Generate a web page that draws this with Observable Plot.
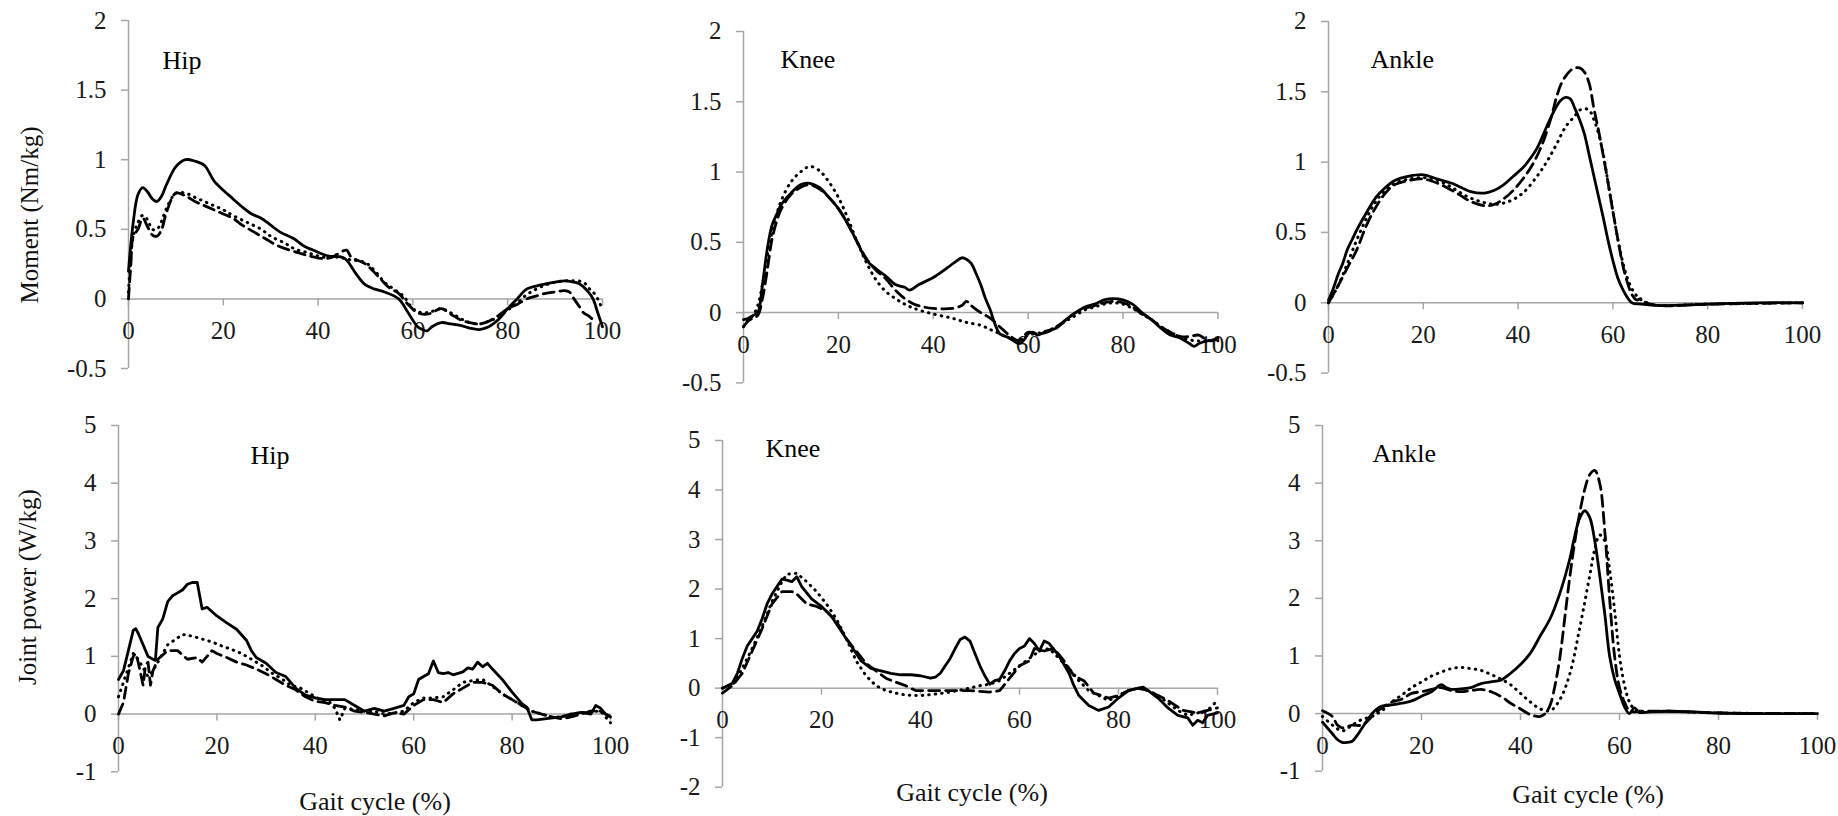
<!DOCTYPE html>
<html><head><meta charset="utf-8">
<script src="https://cdn.jsdelivr.net/npm/d3@7"></script>
<script src="https://cdn.jsdelivr.net/npm/@observablehq/plot@0.6"></script>
<style>
html,body{margin:0;padding:0;background:#fff;}
#root{position:relative;width:1838px;height:816px;overflow:hidden;background:#fff;font-family:"Liberation Serif","Times New Roman",serif;}
.ttl{position:absolute;color:#111;white-space:nowrap;line-height:1;transform:translate(-50%,-50%);}
.rot{transform:translate(-50%,-50%) rotate(-90deg);}
</style></head><body><div id="root"></div>
<script>
// ---------- data ----------
const xTicks = [0, 20, 40, 60, 80, 100];
const momentTicks = [-0.5, 0, 0.5, 1, 1.5, 2];
const powerTicks = [-1, 0, 1, 2, 3, 4, 5];
const kneePowerTicks = [-2, -1, 0, 1, 2, 3, 4, 5];
const jointLabels = ["Hip", "Knee", "Ankle"];
const seriesNames = ["solid", "dashed", "dotted"];

const hipMomentSolid = [[0,0.2],[1,0.55],[2,0.75],[3,0.8],[4,0.77],[5,0.72],[6,0.7],[7,0.74],[8,0.82],[10,0.95],[12,1.0],[14,0.99],[16,0.96],[18,0.85],[20,0.78],[22,0.72],[24,0.66],[26,0.61],[28,0.58],[30,0.53],[32,0.48],[35,0.43],[37,0.38],[39,0.35],[42,0.31],[45,0.3],[46,0.28],[48,0.18],[50,0.1],[52,0.07],[54,0.05],[57,0.0],[59,-0.1],[61,-0.2],[62,-0.22],[63,-0.23],[64,-0.2],[66,-0.17],[68,-0.18],[70,-0.19],[72,-0.21],[74,-0.22],[76,-0.2],[78,-0.15],[80,-0.07],[82,0.0],[84,0.07],[87,0.1],[90,0.12],[92,0.13],[94,0.12],[95,0.11],[97,0.05],[98,0.0],[99,-0.1],[100,-0.2]];
const hipMomentDashed = [[0,0.0],[0.5,0.25],[1,0.45],[2,0.5],[3,0.58],[4,0.52],[5,0.46],[6,0.45],[7,0.5],[8,0.62],[10,0.76],[12,0.74],[14,0.7],[16,0.67],[18,0.64],[20,0.61],[22,0.58],[24,0.53],[27,0.47],[29,0.43],[31,0.39],[34,0.35],[36,0.33],[38,0.31],[41,0.29],[43,0.3],[44,0.32],[46,0.35],[47,0.3],[50,0.25],[53,0.15],[55,0.08],[57,0.04],[59,-0.04],[61,-0.1],[63,-0.11],[64,-0.1],[66,-0.07],[68,-0.11],[70,-0.15],[72,-0.17],[74,-0.18],[76,-0.16],[78,-0.12],[80,-0.07],[82,-0.04],[84,0.0],[86,0.02],[88,0.04],[90,0.05],[92,0.06],[93,0.05],[94,0.0],[95,-0.05],[96,-0.1],[97,-0.12],[98,-0.15]];
const hipMomentDotted = [[0,0.05],[0.5,0.3],[1,0.45],[2,0.55],[3,0.6],[4,0.57],[5,0.5],[6,0.5],[7,0.56],[8,0.65],[10,0.76],[12,0.76],[14,0.73],[16,0.7],[18,0.67],[20,0.64],[22,0.6],[25,0.55],[28,0.5],[30,0.45],[33,0.4],[35,0.36],[38,0.33],[41,0.3],[44,0.3],[47,0.28],[50,0.26],[52,0.2],[54,0.12],[56,0.07],[58,0.02],[60,-0.07],[62,-0.1],[64,-0.09],[66,-0.07],[68,-0.1],[70,-0.14],[72,-0.17],[74,-0.18],[76,-0.16],[78,-0.13],[80,-0.08],[82,-0.03],[84,0.03],[86,0.07],[88,0.1],[90,0.12],[92,0.13],[94,0.13],[96,0.12],[97,0.08],[98,0.05],[99,0.0],[100,-0.08]];

const kneeMomentSolid = [[0,-0.05],[1,-0.04],[2,-0.02],[3,0.0],[4,0.2],[5,0.45],[6,0.62],[7,0.7],[8,0.77],[10,0.85],[12,0.91],[14,0.92],[16,0.89],[18,0.82],[20,0.74],[22,0.63],[24,0.5],[26,0.37],[28,0.31],[30,0.26],[32,0.2],[34,0.18],[35,0.16],[37,0.2],[40,0.25],[43,0.32],[45,0.37],[46,0.39],[47,0.38],[48,0.35],[49,0.28],[50,0.2],[51,0.1],[52,0.02],[53,-0.08],[54,-0.15],[56,-0.18],[58,-0.22],[59,-0.2],[60,-0.15],[61,-0.14],[62,-0.16],[64,-0.13],[66,-0.11],[68,-0.05],[70,0.0],[72,0.04],[74,0.06],[76,0.09],[78,0.1],[80,0.09],[82,0.06],[84,0.0],[86,-0.05],[88,-0.11],[90,-0.16],[92,-0.18],[94,-0.22],[95,-0.24],[96,-0.22],[98,-0.2],[100,-0.19]];
const kneeMomentDashed = [[0,-0.1],[1,-0.06],[2,-0.04],[3,-0.02],[4,0.1],[5,0.3],[6,0.52],[7,0.65],[8,0.74],[10,0.84],[12,0.89],[14,0.91],[16,0.88],[18,0.82],[20,0.74],[22,0.63],[24,0.5],[26,0.38],[28,0.3],[30,0.24],[32,0.16],[34,0.1],[36,0.06],[38,0.04],[40,0.03],[44,0.03],[46,0.05],[47,0.08],[48,0.05],[50,0.0],[52,-0.04],[54,-0.1],[56,-0.16],[58,-0.2],[60,-0.14],[62,-0.15],[64,-0.14],[66,-0.1],[68,-0.05],[70,0.0],[72,0.03],[74,0.05],[76,0.07],[78,0.08],[80,0.07],[82,0.04],[84,-0.01],[86,-0.05],[88,-0.1],[90,-0.14],[92,-0.17],[94,-0.17],[96,-0.16],[98,-0.2],[100,-0.18]];
const kneeMomentDotted = [[0,-0.1],[1,-0.05],[2,-0.02],[3,0.05],[4,0.2],[5,0.4],[6,0.57],[7,0.7],[8,0.8],[10,0.93],[12,1.0],[14,1.04],[16,1.01],[18,0.93],[20,0.82],[22,0.67],[24,0.5],[26,0.35],[28,0.23],[30,0.15],[32,0.1],[34,0.06],[36,0.03],[40,-0.01],[44,-0.04],[47,-0.07],[50,-0.09],[52,-0.12],[54,-0.15],[56,-0.18],[58,-0.2],[60,-0.16],[63,-0.14],[66,-0.1],[68,-0.06],[70,-0.02],[72,0.02],[74,0.04],[76,0.06],[78,0.07],[80,0.06],[82,0.03],[84,-0.01],[86,-0.05],[88,-0.1],[90,-0.14],[92,-0.17],[95,-0.2],[98,-0.2],[100,-0.2]];

const ankleMomentSolid = [[0,0.02],[1,0.1],[2,0.2],[3,0.28],[4,0.38],[5,0.45],[6,0.52],[8,0.64],[10,0.75],[12,0.82],[14,0.87],[17,0.9],[20,0.91],[23,0.88],[25,0.86],[26,0.85],[28,0.82],[30,0.79],[33,0.78],[35,0.8],[37,0.84],[39,0.9],[41,0.96],[42,1.0],[44,1.1],[46,1.25],[48,1.39],[49,1.44],[50,1.46],[51,1.45],[52,1.38],[53,1.3],[54,1.2],[55,1.05],[56,0.9],[57,0.75],[58,0.6],[59,0.44],[60,0.3],[61,0.18],[62,0.1],[63,0.04],[64,0.0],[66,-0.01],[70,-0.02],[80,-0.01],[90,0.0],[100,0.0]];
const ankleMomentDashed = [[0,0.0],[2,0.12],[4,0.25],[6,0.38],[8,0.55],[10,0.68],[12,0.78],[14,0.84],[17,0.87],[20,0.88],[23,0.85],[26,0.8],[28,0.76],[30,0.72],[33,0.69],[35,0.7],[37,0.74],[39,0.8],[41,0.88],[43,0.98],[45,1.12],[47,1.32],[48,1.45],[49,1.55],[50,1.61],[51,1.65],[52,1.67],[53,1.67],[54,1.64],[55,1.56],[56,1.38],[57,1.22],[58,1.04],[59,0.85],[60,0.65],[61,0.46],[62,0.28],[63,0.15],[64,0.06],[65,0.02],[66,0.03],[67,0.0],[70,-0.02],[80,-0.01],[100,0.0]];
const ankleMomentDotted = [[0,0.0],[2,0.12],[4,0.28],[6,0.45],[8,0.6],[10,0.72],[12,0.8],[14,0.85],[17,0.88],[20,0.89],[23,0.87],[26,0.82],[29,0.76],[32,0.72],[35,0.7],[38,0.72],[41,0.78],[44,0.9],[46,1.0],[48,1.12],[50,1.25],[52,1.33],[53,1.37],[54,1.38],[55,1.37],[56,1.3],[57,1.2],[58,1.05],[59,0.85],[60,0.65],[61,0.46],[62,0.3],[63,0.18],[64,0.1],[65,0.05],[66,0.02],[68,-0.01],[70,-0.02],[80,-0.01],[100,0.0]];

const hipPowerSolid = [[0,0.6],[1,0.75],[2,1.1],[3,1.45],[3.5,1.48],[4,1.4],[5,1.2],[6,1.0],[7,0.95],[7.5,0.93],[8,1.5],[9,1.65],[10,1.95],[11,2.05],[12,2.1],[13,2.15],[14,2.25],[15,2.28],[16,2.28],[16.5,2.05],[17,1.82],[18,1.85],[20,1.7],[22,1.58],[24,1.47],[26,1.28],[27,1.1],[28,0.98],[30,0.88],[32,0.72],[34,0.65],[35,0.55],[36,0.45],[38,0.33],[40,0.28],[42,0.25],[44,0.25],[46,0.25],[48,0.15],[50,0.05],[52,0.1],[54,0.05],[56,0.1],[58,0.15],[59,0.3],[60,0.35],[61,0.6],[62,0.65],[63,0.7],[64,0.92],[65,0.72],[66,0.7],[67,0.72],[68,0.68],[70,0.73],[71,0.8],[72,0.78],[73,0.9],[74,0.82],[75,0.88],[76,0.78],[78,0.6],[80,0.38],[82,0.18],[83,0.12],[84,-0.1],[85,-0.1],[87,-0.08],[90,-0.05],[92,0.0],[94,0.03],[96,0.0],[97,0.15],[98,0.1],[99,0.0],[100,-0.05]];
const hipPowerDashed = [[0,0.0],[1,0.2],[2,0.7],[3,1.0],[3.5,1.05],[4,0.9],[5,0.5],[5.5,0.85],[6,0.9],[6.5,0.5],[7,0.75],[8,0.95],[10,1.1],[12,1.1],[14,0.95],[16,0.98],[17,0.9],[18,1.0],[19,1.1],[20,1.05],[22,0.98],[24,0.9],[26,0.85],[28,0.78],[30,0.7],[32,0.6],[34,0.5],[36,0.42],[38,0.3],[40,0.22],[42,0.2],[44,0.15],[46,0.12],[48,0.05],[50,0.03],[52,0.0],[54,-0.03],[56,0.02],[58,0.0],[60,0.15],[62,0.25],[64,0.25],[66,0.2],[68,0.35],[70,0.45],[72,0.55],[74,0.55],[76,0.5],[78,0.35],[80,0.25],[82,0.15],[84,0.05],[86,0.0],[88,-0.05],[90,-0.08],[92,-0.05],[94,0.0],[96,0.05],[98,0.05],[100,-0.05]];
const hipPowerDotted = [[0,0.3],[1,0.55],[2,0.8],[3,1.05],[4,0.95],[5,0.8],[6,0.65],[7,0.75],[8,0.9],[10,1.2],[12,1.32],[13,1.38],[15,1.35],[17,1.3],[19,1.25],[21,1.18],[23,1.12],[25,1.05],[27,0.95],[29,0.85],[31,0.72],[33,0.62],[35,0.5],[37,0.45],[39,0.35],[41,0.25],[43,0.2],[44,0.1],[45,-0.1],[46,0.1],[48,0.08],[50,0.05],[52,0.05],[54,0.0],[56,0.02],[58,0.05],[60,0.2],[62,0.28],[64,0.28],[66,0.3],[68,0.42],[70,0.55],[72,0.58],[74,0.6],[76,0.48],[78,0.35],[80,0.25],[82,0.15],[84,0.05],[86,0.0],[88,-0.05],[90,-0.05],[92,0.0],[94,0.02],[96,0.05],[98,0.05],[100,-0.15]];

const kneePowerSolid = [[0,0.0],[2,0.1],[3,0.3],[4,0.6],[5,0.85],[6,1.0],[7,1.15],[8,1.4],[9,1.7],[10,1.9],[11,2.05],[12,2.2],[13,2.18],[14,2.15],[15,2.25],[16,2.05],[18,1.8],[20,1.65],[22,1.45],[24,1.15],[26,0.85],[28,0.55],[30,0.4],[32,0.35],[34,0.3],[36,0.27],[38,0.27],[40,0.25],[42,0.2],[43,0.22],[44,0.3],[45,0.45],[46,0.6],[47,0.8],[48,0.98],[49,1.03],[50,0.95],[51,0.7],[52,0.45],[53,0.25],[54,0.08],[55,0.15],[56,0.18],[57,0.35],[58,0.55],[59,0.7],[60,0.8],[61,0.85],[62,1.0],[63,0.9],[64,0.75],[65,0.95],[66,0.9],[68,0.65],[70,0.3],[71,0.05],[72,-0.15],[74,-0.35],[76,-0.45],[78,-0.38],[80,-0.2],[82,-0.05],[84,0.0],[85,0.02],[86,-0.05],[88,-0.2],[90,-0.4],[92,-0.55],[94,-0.6],[95,-0.75],[96,-0.65],[97,-0.7],[98,-0.55],[100,-0.5]];
const kneePowerDashed = [[0,-0.1],[2,0.05],[4,0.3],[6,0.75],[8,1.2],[10,1.7],[12,1.95],[14,1.95],[15,1.9],[17,1.7],[19,1.65],[21,1.55],[23,1.35],[25,1.0],[27,0.75],[29,0.5],[31,0.35],[33,0.2],[35,0.12],[37,0.05],[39,-0.05],[42,-0.05],[45,-0.05],[48,-0.05],[50,-0.05],[54,-0.08],[56,-0.05],[58,0.2],[60,0.45],[62,0.55],[63,0.8],[65,0.75],[67,0.8],[69,0.55],[71,0.25],[73,0.15],[75,-0.1],[78,-0.2],[80,-0.15],[82,-0.05],[84,0.0],[86,-0.05],[88,-0.15],[90,-0.25],[93,-0.45],[96,-0.5],[98,-0.45],[100,-0.4]];
const kneePowerDotted = [[0,0.0],[2,0.05],[4,0.4],[6,0.8],[8,1.25],[10,1.75],[12,2.15],[13,2.3],[15,2.32],[17,2.15],[19,1.95],[21,1.7],[23,1.4],[25,1.0],[27,0.55],[29,0.25],[31,0.05],[33,-0.05],[35,-0.1],[37,-0.14],[40,-0.15],[43,-0.12],[46,-0.08],[49,-0.02],[52,0.05],[54,0.08],[56,0.15],[58,0.3],[60,0.45],[62,0.6],[64,0.75],[66,0.8],[68,0.6],[70,0.4],[72,0.15],[74,-0.05],[76,-0.15],[78,-0.25],[80,-0.15],[82,-0.05],[84,0.0],[86,-0.05],[88,-0.15],[90,-0.3],[92,-0.45],[94,-0.55],[96,-0.5],[98,-0.45],[100,-0.25]];

const anklePowerSolid = [[0,-0.15],[1,-0.25],[2,-0.35],[3,-0.45],[4,-0.5],[5,-0.5],[6,-0.48],[7,-0.38],[8,-0.25],[9,-0.12],[10,0.0],[11,0.08],[12,0.13],[14,0.15],[16,0.18],[18,0.22],[20,0.3],[22,0.38],[24,0.5],[25,0.45],[26,0.42],[28,0.43],[30,0.45],[32,0.52],[34,0.55],[36,0.58],[38,0.7],[40,0.85],[42,1.05],[44,1.35],[46,1.65],[48,2.1],[50,2.7],[51,3.1],[52,3.4],[53,3.52],[54,3.4],[55,3.0],[56,2.4],[57,1.75],[58,1.0],[59,0.6],[60,0.35],[61,0.12],[62,0.0],[63,0.1],[64,0.02],[66,0.03],[70,0.04],[75,0.03],[80,0.01],[90,0.0],[100,0.0]];
const anklePowerDashed = [[0,0.05],[2,-0.05],[3,-0.2],[4,-0.25],[6,-0.2],[8,-0.2],[10,-0.05],[12,0.1],[14,0.2],[16,0.25],[18,0.35],[20,0.38],[22,0.42],[24,0.45],[26,0.4],[28,0.38],[30,0.4],[32,0.42],[34,0.38],[36,0.3],[38,0.18],[40,0.08],[42,-0.02],[44,-0.05],[45,0.0],[46,0.15],[47,0.5],[48,1.0],[49,1.7],[50,2.4],[51,3.0],[52,3.5],[53,3.9],[54,4.15],[55,4.22],[56,4.0],[57,3.2],[58,2.0],[59,1.0],[60,0.45],[61,0.2],[62,0.05],[63,0.03],[64,0.04],[70,0.04],[80,0.01],[100,0.0]];
const anklePowerDotted = [[0,-0.05],[2,-0.2],[4,-0.3],[6,-0.2],[8,-0.1],[10,-0.05],[12,0.05],[14,0.2],[16,0.32],[18,0.45],[20,0.55],[22,0.65],[24,0.72],[26,0.78],[28,0.8],[30,0.78],[32,0.75],[34,0.68],[36,0.6],[38,0.5],[40,0.35],[42,0.2],[44,0.08],[46,0.05],[48,0.25],[50,0.7],[52,1.5],[54,2.4],[55,2.85],[56,3.1],[57,3.0],[58,2.5],[59,1.8],[60,1.0],[61,0.5],[62,0.2],[63,0.08],[64,0.04],[70,0.04],[80,0.01],[100,0.0]];

// ---------- layout / style ----------
const AXIS = "#a6a6a6";
const FONT = "Liberation Serif, Times New Roman, serif";
const lineStyles = {
  solid:  {strokeWidth: 2.8},
  dashed: {strokeWidth: 2.8, strokeDasharray: "11,6"},
  dotted: {strokeWidth: 3, strokeDasharray: "0.5,6", strokeLinecap: "round"}
};
const panels = [
  {label: jointLabels[0], series: [hipMomentSolid, hipMomentDashed, hipMomentDotted], yTicks: momentTicks, x0: 128, x1: 602, yTop: 20, yBot: 368, labelDx: 34, labelDy: 30, curve: "catmull-rom"},
  {label: jointLabels[1], series: [kneeMomentSolid, kneeMomentDashed, kneeMomentDotted], yTicks: momentTicks, x0: 742.6, x1: 1217, yTop: 31.3, yBot: 382.7, labelDx: 37, labelDy: 18, curve: "catmull-rom"},
  {label: jointLabels[2], series: [ankleMomentSolid, ankleMomentDashed, ankleMomentDotted], yTicks: momentTicks, x0: 1328, x1: 1802, yTop: 21, yBot: 372.6, labelDx: 42, labelDy: 28, curve: "catmull-rom"},
  {label: jointLabels[0], series: [hipPowerSolid, hipPowerDashed, hipPowerDotted], yTicks: powerTicks, x0: 118.3, x1: 610.3, yTop: 425, yBot: 771.3, labelDx: 132, labelDy: 20, curve: "linear"},
  {label: jointLabels[1], series: [kneePowerSolid, kneePowerDashed, kneePowerDotted], yTicks: kneePowerTicks, x0: 722, x1: 1217, yTop: 440, yBot: 786.7, labelDx: 43, labelDy: -2, curve: "linear"},
  {label: jointLabels[2], series: [anklePowerSolid, anklePowerDashed, anklePowerDotted], yTicks: powerTicks, x0: 1322, x1: 1817, yTop: 425, yBot: 770.7, labelDx: 50, labelDy: 18, curve: "catmull-rom"}
];

const root = document.getElementById("root");

function drawPanel(p) {
  const mL = 80, mR = 30, mT = 20, mB = 50;
  const yDomain = [d3.min(p.yTicks), d3.max(p.yTicks)];
  const w = (p.x1 - p.x0) + mL + mR;
  const h = (p.yBot - p.yTop) + mT + mB;
  const pxPerY = (p.yBot - p.yTop) / (yDomain[1] - yDomain[0]);
  const pxPerX = (p.x1 - p.x0) / 100;
  const tY = 7 / pxPerY, tX = 7 / pxPerX;
  const lineMarks = [];
  [2, 1, 0].forEach(k => {
    const name = seriesNames[k];
    lineMarks.push(Plot.line(p.series[k], {
      x: d => d[0], y: d => d[1], stroke: "#000", curve: p.curve,
      strokeLinejoin: "round", ...lineStyles[name]
    }));
  });
  const chart = Plot.plot({
    width: w, height: h, marginLeft: mL, marginRight: mR, marginTop: mT, marginBottom: mB,
    x: {domain: [0, 100], axis: null},
    y: {domain: yDomain, axis: null},
    style: {fontFamily: FONT, background: "transparent", overflow: "visible"},
    marks: [
      Plot.ruleX([0], {y1: yDomain[0], y2: yDomain[1], stroke: AXIS, strokeWidth: 1.5}),
      Plot.ruleY(p.yTicks, {y: d => d, x1: -tX, x2: 0, stroke: AXIS, strokeWidth: 1.5}),
      Plot.text(p.yTicks, {x: 0, y: d => d, text: d => String(d), textAnchor: "end", dx: -22, fontSize: 25, fill: "#1a1a1a", fontFamily: FONT}),
      Plot.ruleY([0], {x1: 0, x2: 100, stroke: AXIS, strokeWidth: 1.5}),
      Plot.ruleX(xTicks, {x: d => d, y1: 0, y2: -tY, stroke: AXIS, strokeWidth: 1.5}),
      Plot.text(xTicks, {x: d => d, y: 0, dy: 32, text: d => String(d), fontSize: 25, fill: "#1a1a1a", fontFamily: FONT}),
      ...lineMarks,
      Plot.text([p.label], {frameAnchor: "top-left", dx: p.labelDx, dy: p.labelDy, textAnchor: "start", text: d => d, fontSize: 26, fill: "#000", fontFamily: FONT})
    ]
  });
  chart.style.position = "absolute";
  chart.style.left = (p.x0 - mL) + "px";
  chart.style.top = (p.yTop - mT) + "px";
  root.appendChild(chart);
}
panels.forEach(drawPanel);

function addTitle(text, cx, cy, size, rotate) {
  const d = document.createElement("div");
  d.className = "ttl" + (rotate ? " rot" : "");
  d.textContent = text;
  d.style.left = cx + "px";
  d.style.top = cy + "px";
  d.style.fontSize = size + "px";
  root.appendChild(d);
}
addTitle("Moment (Nm/kg)", 29, 215, 25, true);
addTitle("Joint power (W/kg)", 27, 587, 25, true);
addTitle("Gait cycle (%)", 375, 802, 26, false);
addTitle("Gait cycle (%)", 972, 793, 26, false);
addTitle("Gait cycle (%)", 1588, 795, 26, false);
</script></body></html>
